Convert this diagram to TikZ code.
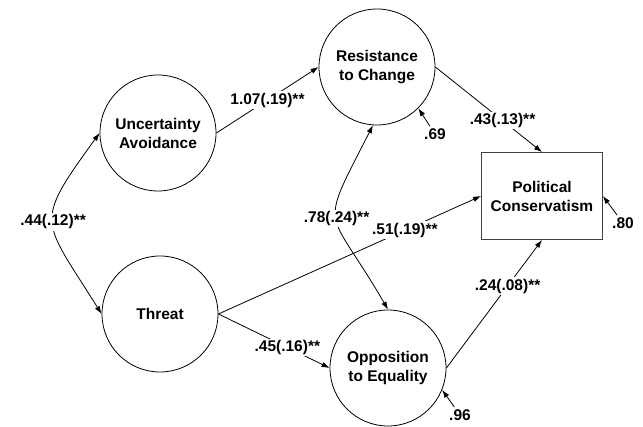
\documentclass[tikz,border=0pt]{standalone}
\usepackage{fontspec}
\setmainfont{Liberation Sans}
\usepackage{tikz}
\usetikzlibrary{shapes,arrows,arrows.meta,positioning}

\begin{document}
\begin{tikzpicture}[x=1pt,y=-1pt,line width=0.8pt,>={Latex[length=8pt,width=5.5pt]},
  font=\fontsize{15.5}{19}\selectfont\bfseries]

\useasboundingbox (0,0) rectangle (643,427);

\tikzstyle{latent}=[circle,draw=black,minimum size=116pt,inner sep=0pt,align=center]
\tikzstyle{observed}=[rectangle,draw=black!75,minimum width=121pt,minimum height=87pt,align=center]
\tikzstyle{coef}=[fill=white,inner sep=1.5pt]
\tikzstyle{resid}=[inner sep=2pt]

\node (ua) at (158,133) [latent] {Uncertainty\\Avoidance};
\node (thr) at (160,314) [latent] {Threat};
\node (rtc) at (377,67) [latent] {Resistance\\to Change};
\node (oe) at (388,368) [latent] {Opposition\\to Equality};
\node (pc) at (542,196) [observed] {Political\\Conservatism};

% paths
\draw[->] (ua.east) -- node[coef] {1.07(.19)**} (rtc.west);
\draw[->] (rtc.east) -- node[coef,pos=0.63] {.43(.13)**} (pc.north);
\draw[->] (thr.east) -- node[coef,pos=0.71] {.51(.19)**} (pc.west);
\draw[->] (thr.east) -- node[coef,pos=0.62] {.45(.16)**} (oe.west);
\draw[->] (oe.east) -- node[coef,pos=0.64] {.24(.08)**} (pc.south);

% covariances
\draw[<->] (ua.west) to[out=-126,in=122,looseness=1.6] node[coef] {.44(.12)**} (thr.west);
\draw[<->] (rtc.-94) to[out=-117,in=120,looseness=1.7] node[coef] {.78(.24)**} (oe.north);

% residuals
\node (r69) at (435,134) [resid] {.69};
\node (r80) at (623,223) [resid] {.80};
\node (r96) at (460,415) [resid] {.96};
\draw[->] (r69) -- (rtc.-45);
\draw[->] (r80) -- (pc.east);
\draw[->] (r96) -- (oe.-22);

\end{tikzpicture}
\end{document}
